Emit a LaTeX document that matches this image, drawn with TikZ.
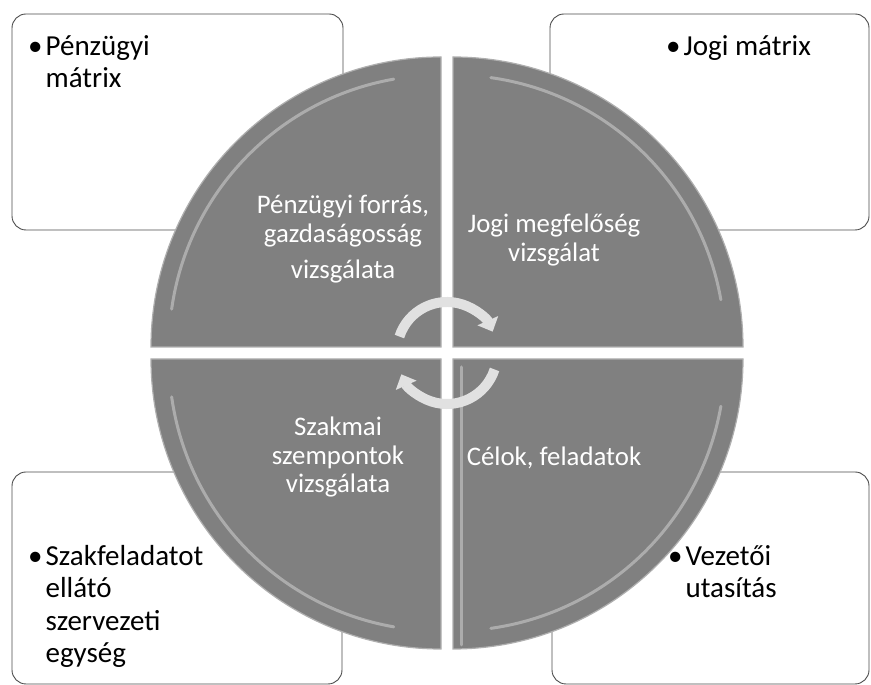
\documentclass[tikz,border=0pt]{standalone}
\usepackage{fontspec}
\setmainfont{Carlito}
\usetikzlibrary{arrows.meta}
\definecolor{quadgray}{RGB}{128,128,128}
\definecolor{rimgray}{RGB}{175,175,175}
\definecolor{arrowgray}{RGB}{225,225,225}

\begin{document}
\begin{tikzpicture}[x=1pt, y=1pt,
	infobox/.style={draw=black!70, line width=0.9pt, rounded corners=14pt, fill=white, inner sep=0pt},
	boxtext/.style={anchor=north west, inner sep=0pt, align=left, font=\fontsize{29}{32.5}\selectfont},
	quadrant/.style={fill=quadgray, draw=rimgray, line width=1.2pt},
	shine/.style={draw=white, opacity=0.35, line width=3pt, line cap=round},
	quadtext/.style={anchor=north, inner sep=0pt, align=center, text=white, font=\fontsize{26.8}{28.5}\selectfont},
	turn/.style={draw=arrowgray, line width=10pt, -{Triangle[width=22pt, length=12pt]}}]
	\useasboundingbox (0,0) rectangle (871,685);
	% corner boxes
	\node[infobox, minimum width=331pt, minimum height=216pt] (finbox) at (177.5,563) {};
	\node[infobox, minimum width=319pt, minimum height=216pt] (jogbox) at (709.5,563) {};
	\node[infobox, minimum width=330pt, minimum height=212pt] (szakbox) at (177,107) {};
	\node[infobox, minimum width=317pt, minimum height=212pt] (vezbox) at (710.5,107) {};
	% quadrants of the circle
	\path[quadrant] (453,338) -- (743,338) arc (0:90:290) -- cycle;
	\path[quadrant] (441,338) -- (441,628) arc (90:180:290) -- cycle;
	\path[quadrant] (441,326) -- (151,326) arc (180:270:290) -- cycle;
	\path[quadrant] (453,326) -- (453,36) arc (270:360:290) -- cycle;
	\draw[shine] (453,338) ++(10:272) arc (10:82:272);
	\draw[shine] (441,338) ++(100:272) arc (100:172:272);
	\draw[shine] (441,326) ++(188:272) arc (188:260:272);
	\draw[shine] (453,326) ++(278:272) arc (278:350:272);
	\draw[shine] (461,40) -- (461,318);
	\draw[shine] (449,346) -- (449,622);
	% quadrant labels
	\node[quadtext] (finq) at (343,490) {Pénzügyi forrás,\\ gazdaságosság\\[8pt] vizsgálata};
	\node[quadtext] (jogq) at (554,471) {Jogi megfelőség\\ vizsgálat};
	\node[quadtext] (szakq) at (338,268) {Szakmai\\ szempontok\\ vizsgálata};
	\node[quadtext] (celq) at (554,238) {Célok, feladatok};
	% turning arrows
	\draw[turn] (447,333) ++(162:50) arc (162:24:50);
	\draw[turn] (447,331) ++(-18:50) arc (-18:-156:50);
	% box texts
	\node[boxtext] (fintext) at (28,650) {•\hspace{3pt}Pénzügyi\\\phantom{•}\hspace{3pt}mátrix};
	\node[boxtext] (jogtext) at (666,650) {•\hspace{3pt}Jogi mátrix};
	\node[boxtext] (szaktext) at (28,140) {•\hspace{3pt}Szakfeladatot\\\phantom{•}\hspace{3pt}ellátó\\\phantom{•}\hspace{3pt}szervezeti\\\phantom{•}\hspace{3pt}egység};
	\node[boxtext] (veztext) at (668,140) {•\hspace{3pt}Vezetői\\\phantom{•}\hspace{3pt}utasítás};
\end{tikzpicture}
\end{document}
